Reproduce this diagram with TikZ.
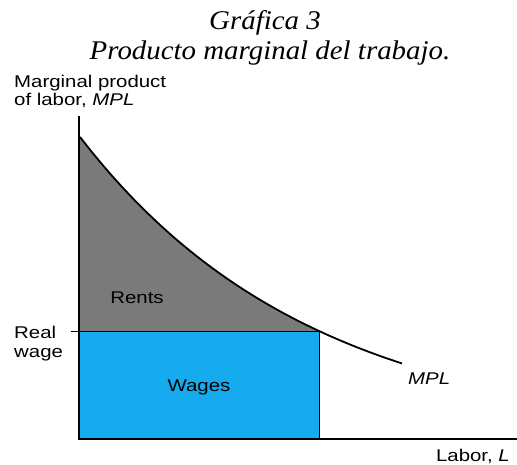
\documentclass[tikz,border=0pt]{standalone}
\usepackage{fontspec}
\setmainfont{Liberation Serif}
\newfontfamily\labfont[FakeStretch=1.2]{Liberation Sans}
\newfontfamily\titfont[FakeStretch=1.07]{Liberation Serif}
\definecolor{wagecyan}{RGB}{22,170,238}
\definecolor{rentgray}{RGB}{122,122,122}
\begin{document}
\begin{tikzpicture}[x=1pt,y=-1pt,
  lab/.style={font=\labfont\fontsize{17}{19}\selectfont, inner sep=0pt, text=black},
  tit/.style={font=\titfont\itshape\fontsize{27}{29}\selectfont, inner sep=0pt},
  axis/.style={line width=2.6pt},
  curve/.style={line width=1.8pt}]
\useasboundingbox (0,0) rectangle (517,465);
% rents area
\fill[rentgray] (80,331) -- plot[domain=80:319,samples=60] ({\x},{439-302*exp(-0.0043*(\x-80))}) -- cycle;
% wages box
\fill[wagecyan] (80,331) rectangle (319,439);
\draw[line width=1pt] (71,331) -- (319,331) -- (319,439);
% MPL curve
\draw[curve] plot[domain=80:402,samples=80] ({\x},{439-302*exp(-0.0043*(\x-80))});
% axes
\coordinate (o) at (79,439);
\coordinate (ytop) at (79,116);
\coordinate (xend) at (517,439);
\draw[axis] (ytop) -- (o) -- (xend);
% texts
\node[tit, anchor=base] (t1) at (265,30) {Gráfica 3};
\node[tit, anchor=base] (t2) at (270,60) {Producto marginal del trabajo.};
\node[lab, anchor=base west, align=left] (yl1) at (14,88) {Marginal product};
\node[lab, anchor=base west] (yl2) at (14,106) {of labor, \textit{MPL}};
\node[lab, anchor=base west] (rw1) at (14,338) {Real};
\node[lab, anchor=base west] (rw2) at (14,357) {wage};
\node[lab, anchor=base] (rents) at (137,303) {Rents};
\node[lab, anchor=base] (wages) at (199,391) {Wages};
\node[lab, anchor=base west] (mpl) at (408,384) {\textit{MPL}};
\node[lab, anchor=base east] (xl) at (510,461) {Labor, \textit{L}};
\end{tikzpicture}
\end{document}
